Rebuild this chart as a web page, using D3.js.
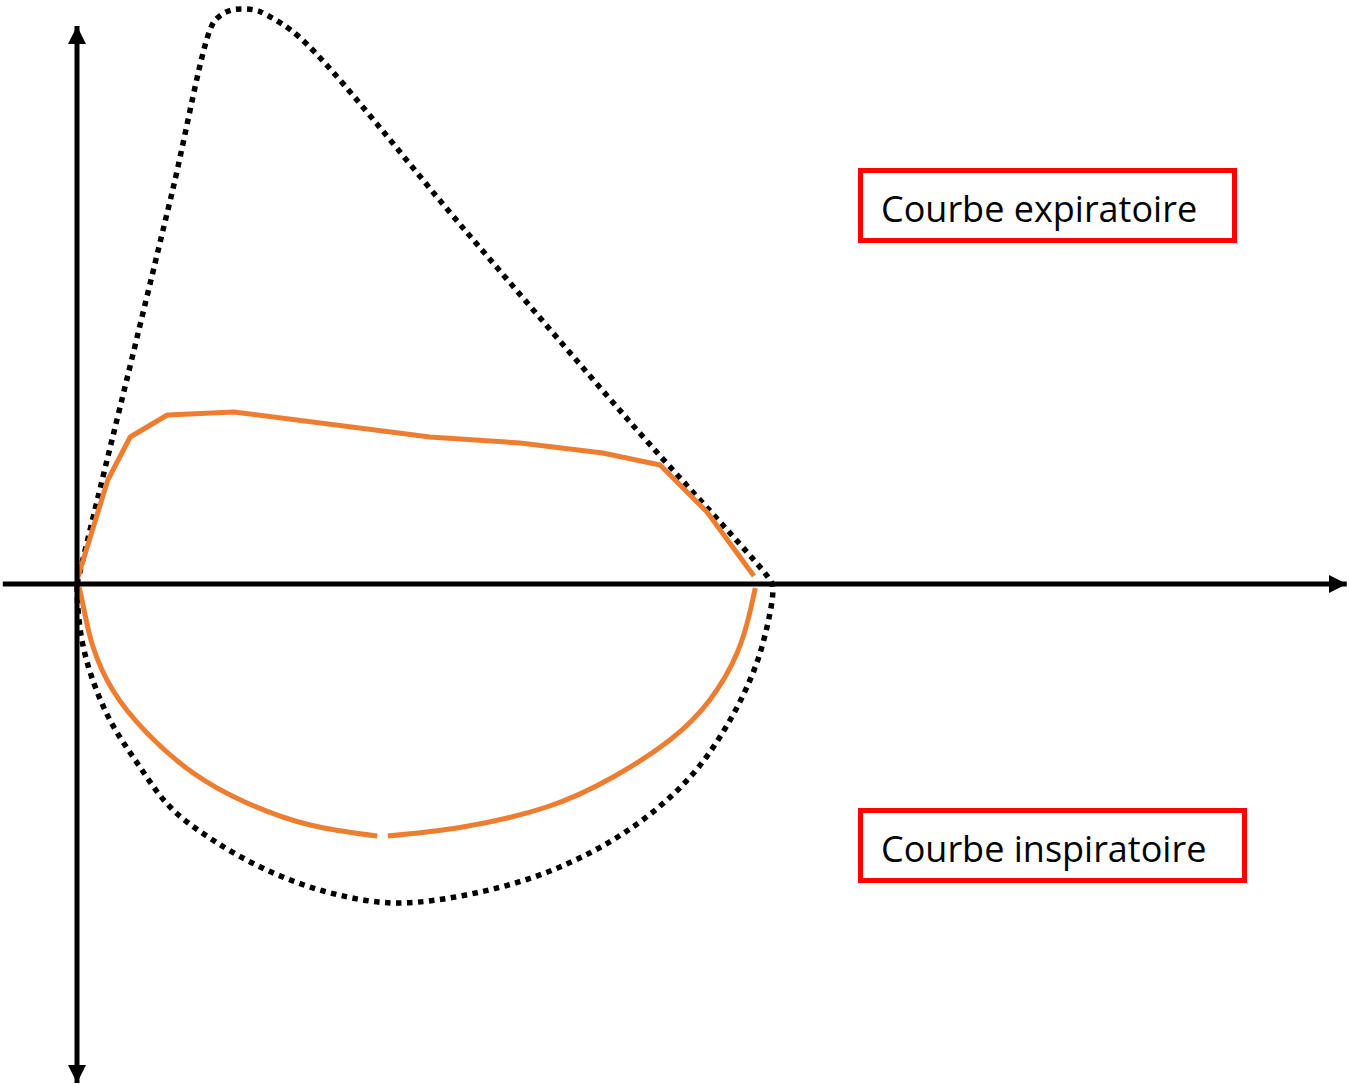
<!DOCTYPE html>
<html lang="fr">
<head>
    <meta charset="UTF-8">
    <title>Courbe débit-volume</title>
    <script src="https://d3js.org/d3.v7.min.js"></script>
    <style>
        body { margin: 0; background: #fff; }
    </style>
</head>
<body>
<script>
    const width = 1350;
    const height = 1087;

    // volume (x) / débit (y), unités arbitraires
    // courbe normale (pointillés) : expiration puis inspiration
    const normalVolume = [0, 0.37, 0.71, 1.36, 1.93, 2.04, 2.21, 2.54, 2.71, 3.19, 5.54, 7.9, 9.86, 9.93,
                          9.94, 9.9, 9.71, 9.33, 8.76, 7.94, 6.9, 5.76, 4.54, 3.57, 2.71, 1.94, 1.33, 0.86, 0.47, 0.21, 0.07, 0.01, 0];
    const normalFlow   = [0, 2.14, 4.08, 7.84, 11.18, 11.36, 11.48, 11.48, 11.38, 10.92, 7.08, 3.24, 0.16, 0,
                          -0.16, -0.58, -1.58, -2.72, -3.86, -4.86, -5.66, -6.16, -6.38, -6.16, -5.72, -5.12, -4.46, -3.58, -2.72, -1.86, -1.12, -0.42, 0];

    // courbe pathologique (orange) : expiration
    const expVolume = [0.01, 0.44, 0.76, 1.29, 2.24, 5.04, 6.33, 7.51, 8.33, 9.0, 9.67];
    const expFlow   = [0.12, 2.08, 2.94, 3.38, 3.44, 2.94, 2.82, 2.62, 2.38, 1.44, 0.16];

    // courbe pathologique (orange) : inspiration, en deux arcs
    const inspRightVolume = [9.69, 9.61, 9.43, 9.04, 8.47, 7.66, 6.71, 5.51, 4.44];
    const inspRightFlow   = [-0.08, -0.58, -1.38, -2.32, -3.12, -3.86, -4.46, -4.86, -5.04];
    const inspLeftVolume  = [4.29, 3.33, 2.43, 1.66, 1.0, 0.51, 0.23, 0.11, 0.03];
    const inspLeftFlow    = [-5.04, -4.82, -4.38, -3.78, -2.98, -2.12, -1.26, -0.58, -0.06];

    // étendue des axes
    const xAxisExtent = [-1.06, 18.14];
    const yAxisExtent = [11.16, -9.98];

    const labels = ["Courbe expiratoire", "Courbe inspiratoire"];

    const svg = d3.select("body").append("svg")
            .attr("width", width).attr("height", height);

    const x = d3.scaleLinear().domain([-1.1, 18.2]).range([0, 1351]);
    const y = d3.scaleLinear().domain([-10, 11.6]).range([1084, 4]);

    const zip = (xs, ys) => xs.map((v, i) => [v, ys[i]]);

    const smooth = d3.line()
            .x(d => x(d[0])).y(d => y(d[1]))
            .curve(d3.curveCatmullRom.alpha(0.5));
    const natural = d3.line()
            .x(d => x(d[0])).y(d => y(d[1]))
            .curve(d3.curveNatural);
    const straight = d3.line()
            .x(d => x(d[0])).y(d => y(d[1]));

    drawCurves();
    drawAxes();
    drawLabels();

    function drawCurves() {
        svg.append("path").attr("class", "normal")
                .datum(zip(normalVolume, normalFlow))
                .attr("d", smooth)
                .style("fill", "none")
                .style("stroke", "#000")
                .style("stroke-width", 5.5)
                .style("stroke-dasharray", "5.5,5.5");

        svg.append("path").attr("class", "exp")
                .datum(zip(expVolume, expFlow))
                .attr("d", straight)
                .style("fill", "none")
                .style("stroke", "#ED7D31")
                .style("stroke-width", 5)
                .style("stroke-linejoin", "round");

        [zip(inspRightVolume, inspRightFlow), zip(inspLeftVolume, inspLeftFlow)].forEach(arc => {
            svg.append("path").attr("class", "insp")
                    .datum(arc)
                    .attr("d", natural)
                    .style("fill", "none")
                    .style("stroke", "#ED7D31")
                    .style("stroke-width", 5);
        });
    }

    function drawAxes() {
        const defs = svg.append("defs");
        defs.append("marker")
                .attr("id", "arrow")
                .attr("markerUnits", "userSpaceOnUse")
                .attr("viewBox", "0 0 18 18")
                .attr("refX", 18).attr("refY", 9)
                .attr("markerWidth", 18).attr("markerHeight", 18)
                .attr("orient", "auto-start-reverse")
                .append("path")
                .attr("d", "M0,0L18,9L0,18Z")
                .style("fill", "#000");

        svg.append("line").attr("class", "x-axis")
                .attr("x1", x(xAxisExtent[0])).attr("x2", x(xAxisExtent[1]))
                .attr("y1", y(0)).attr("y2", y(0))
                .style("stroke", "#000")
                .style("stroke-width", 5)
                .attr("marker-end", "url(#arrow)");

        svg.append("line").attr("class", "y-axis")
                .attr("x1", x(0)).attr("x2", x(0))
                .attr("y1", y(yAxisExtent[1])).attr("y2", y(yAxisExtent[0]))
                .style("stroke", "#000")
                .style("stroke-width", 5)
                .attr("marker-start", "url(#arrow)")
                .attr("marker-end", "url(#arrow)");
    }

    function drawLabels() {
        const boxes = [
            {x: 860.5, y: 170.5, w: 374, h: 70, text: labels[0]},
            {x: 860.5, y: 810.5, w: 384, h: 70, text: labels[1]}
        ];
        const g = svg.selectAll("g.label")
                .data(boxes)
                .enter()
                .append("g")
                .attr("class", "label");

        g.append("rect")
                .attr("x", d => d.x).attr("y", d => d.y)
                .attr("width", d => d.w).attr("height", d => d.h)
                .style("fill", "#fff")
                .style("stroke", "#FF0000")
                .style("stroke-width", 5);

        g.append("text")
                .attr("x", 881)
                .attr("y", d => d.y + 51)
                .text(d => d.text)
                .style("font-family", "'Open Sans', sans-serif")
                .style("font-size", "36px")
                .style("fill", "#000");
    }
</script>
</body>
</html>
